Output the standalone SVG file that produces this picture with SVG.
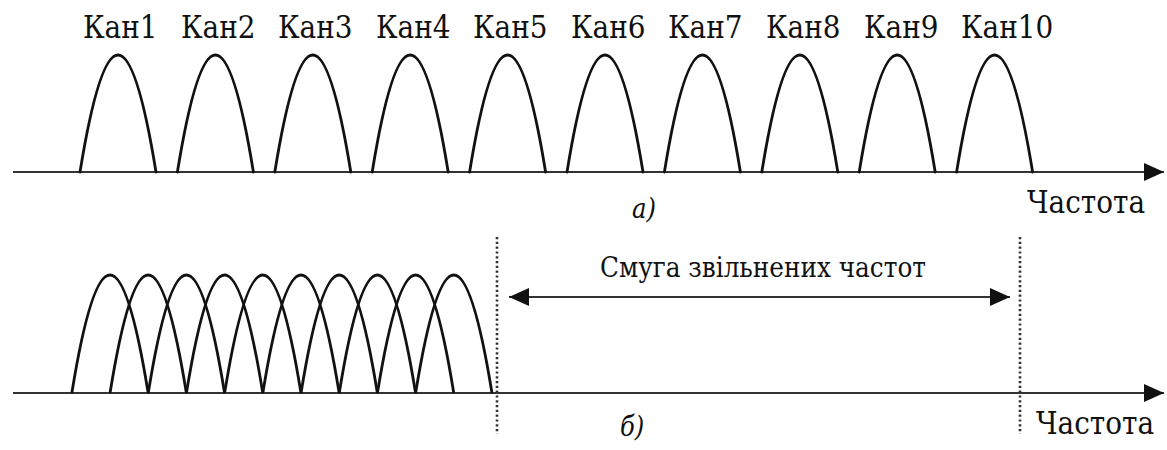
<svg xmlns="http://www.w3.org/2000/svg" width="1167" height="450" viewBox="0 0 1167 450">
<style>
.arch{fill:none;stroke:#111;stroke-width:2.8;stroke-linecap:round}
.axis{fill:none;stroke:#333;stroke-width:1.8}
.dot{fill:none;stroke:#333;stroke-width:2.6;stroke-dasharray:2.2 2.6}
.lbl,.it,.band{font-family:'DejaVu Serif Condensed','DejaVu Serif',serif;font-stretch:condensed;fill:#111}
.lbl{font-size:31px}
.it{font-size:27px;font-style:italic}
.band{font-size:27.5px}
</style>
<defs>
<marker id="ah" viewBox="0 0 20 20" refX="20" refY="10" markerWidth="20" markerHeight="20" markerUnits="userSpaceOnUse" orient="auto-start-reverse">
<path d="M0,1 L20,10 L0,19 Z" fill="#111"/>
</marker>
</defs>
<rect width="1167" height="450" fill="#fff"/>
<g id="connectors">
<line class="axis" x1="13" y1="172" x2="1164" y2="172" marker-end="url(#ah)"/>
<line class="axis" x1="13" y1="393" x2="1164" y2="393" marker-end="url(#ah)"/>
<line class="dot" x1="497" y1="237" x2="497" y2="434"/>
<line class="dot" x1="1020" y1="237" x2="1020" y2="434"/>
<line class="axis" x1="509" y1="297" x2="1010" y2="297" stroke="#111" marker-start="url(#ah)" marker-end="url(#ah)"/>
</g>
<g id="ch1"><path class="arch" d="M80,172 Q118,-62 156,172"/><text class="lbl" x="83" y="38">Кан1</text></g>
<g id="ch2"><path class="arch" d="M177.4,172 Q215.4,-62 253.4,172"/><text class="lbl" x="181" y="38">Кан2</text></g>
<g id="ch3"><path class="arch" d="M274.8,172 Q312.8,-62 350.8,172"/><text class="lbl" x="278" y="38">Кан3</text></g>
<g id="ch4"><path class="arch" d="M372.2,172 Q410.2,-62 448.2,172"/><text class="lbl" x="376" y="38">Кан4</text></g>
<g id="ch5"><path class="arch" d="M469.6,172 Q507.6,-62 545.6,172"/><text class="lbl" x="473" y="38">Кан5</text></g>
<g id="ch6"><path class="arch" d="M567,172 Q605,-62 643,172"/><text class="lbl" x="571" y="38">Кан6</text></g>
<g id="ch7"><path class="arch" d="M664.4,172 Q702.4,-62 740.4,172"/><text class="lbl" x="668" y="38">Кан7</text></g>
<g id="ch8"><path class="arch" d="M761.8,172 Q799.8,-62 837.8,172"/><text class="lbl" x="766" y="38">Кан8</text></g>
<g id="ch9"><path class="arch" d="M859.2,172 Q897.2,-62 935.2,172"/><text class="lbl" x="864" y="38">Кан9</text></g>
<g id="ch10"><path class="arch" d="M956.6,172 Q994.6,-62 1032.6,172"/><text class="lbl" x="961" y="38">Кан10</text></g>
<g id="label-freq-a"><text class="lbl" x="1027" y="213">Частота</text></g>
<g id="label-a"><text class="it" x="632" y="218">а)</text></g>
<g id="packed-channels">
<path class="arch" d="M72,392 Q110,158 148,392"/>
<path class="arch" d="M110.2,392 Q148.2,158 186.2,392"/>
<path class="arch" d="M148.4,392 Q186.4,158 224.4,392"/>
<path class="arch" d="M186.6,392 Q224.6,158 262.6,392"/>
<path class="arch" d="M224.8,392 Q262.8,158 300.8,392"/>
<path class="arch" d="M263,392 Q301,158 339,392"/>
<path class="arch" d="M301.2,392 Q339.2,158 377.2,392"/>
<path class="arch" d="M339.4,392 Q377.4,158 415.4,392"/>
<path class="arch" d="M377.6,392 Q415.6,158 453.6,392"/>
<path class="arch" d="M415.8,392 Q453.8,158 491.8,392"/>
</g>
<g id="label-band"><text class="band" x="763" y="277" text-anchor="middle">Смуга звільнених частот</text></g>
<g id="label-freq-b"><text class="lbl" x="1036" y="434">Частота</text></g>
<g id="label-b"><text class="it" x="620" y="436">б)</text></g>
</svg>
